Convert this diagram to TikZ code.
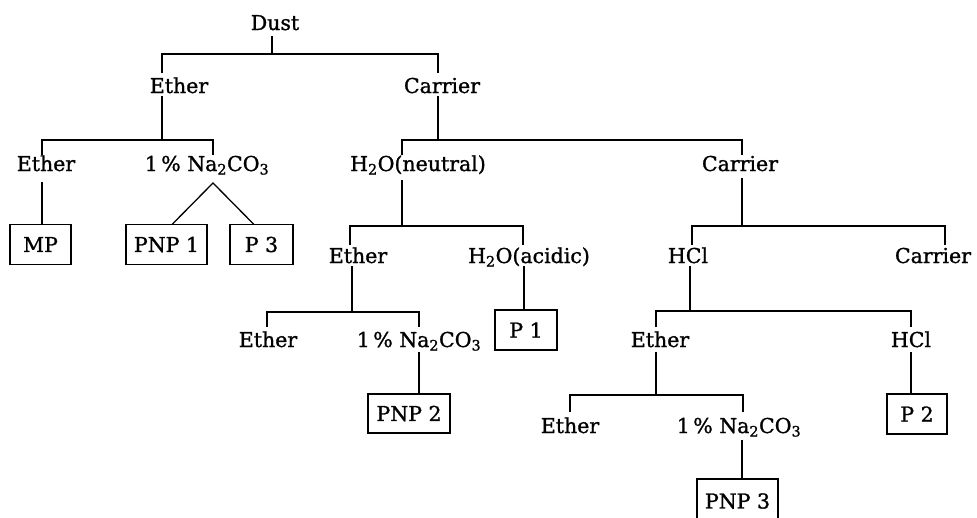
\documentclass[tikz,border=0pt]{standalone}
\usepackage{fontspec}
\setmainfont{DejaVu Serif}[FakeBold=1.2]
\begin{document}
\begin{tikzpicture}[x=1pt,y=-1pt,
  lbl/.style={inner sep=0pt,anchor=base,font=\fontsize{20.5}{24}\selectfont},
  res/.style={draw,line width=1.2pt,inner sep=0pt,minimum height=40pt,font=\fontsize{20.5}{24}\selectfont},
  ln/.style={line width=1.3pt}]
\useasboundingbox (0,0) rectangle (977,517);
% ---- labels
\node[lbl] (dust) at (275,30) {Dust};
\node[lbl] (eth1) at (179,93) {Ether};
\node[lbl] (car1) at (442,93) {Carrier};
\node[lbl] (eth2) at (46,171) {Ether};
\node[lbl] (na1) at (207,171) {1\,\% Na\textsubscript{2}CO\textsubscript{3}};
\node[lbl] (h2on) at (418,171) {H\textsubscript{2}O(neutral)};
\node[lbl] (car2) at (740,171) {Carrier};
\node[lbl] (eth3) at (358,263) {Ether};
\node[lbl] (h2oa) at (529,263) {H\textsubscript{2}O(acidic)};
\node[lbl] (hcl1) at (688,263) {HCl};
\node[lbl] (car3) at (933,263) {Carrier};
\node[lbl] (eth4) at (268,347) {Ether};
\node[lbl] (na2) at (419,347) {1\,\% Na\textsubscript{2}CO\textsubscript{3}};
\node[lbl] (eth5) at (660,347) {Ether};
\node[lbl] (hcl2) at (911,347) {HCl};
\node[lbl] (eth6) at (570,433) {Ether};
\node[lbl] (na3) at (739,433) {1\,\% Na\textsubscript{2}CO\textsubscript{3}};
% ---- result boxes
\node[res,minimum width=61pt] (mp) at (40.5,244.5) {MP};
\node[res,minimum width=81pt] (pnp1) at (166.5,244.5) {PNP 1};
\node[res,minimum width=63pt] (p3) at (261.5,244.5) {P 3};
\node[res,minimum width=62pt] (p1) at (526,330) {P 1};
\node[res,minimum width=82pt,minimum height=39pt] (pnp2) at (409,413.5) {PNP 2};
\node[res,minimum width=60pt] (p2) at (917,414) {P 2};
\node[res,minimum width=81pt,minimum height=44pt] (pnp3) at (737.5,501) {PNP 3};
% ---- junction coordinates
\coordinate (dA) at (272,36);   \coordinate (dB) at (272,54);
\coordinate (k1) at (162,73);   \coordinate (k2) at (438,73);
\coordinate (e1a) at (162,96);  \coordinate (e1b) at (162,140);
\coordinate (k3) at (42,155);   \coordinate (k4) at (213,155);
\coordinate (c1a) at (438,96);  \coordinate (c1b) at (438,140);
\coordinate (k5) at (402,155);  \coordinate (k6) at (742,155);
\coordinate (e2a) at (42,182);
\coordinate (n1a) at (213,183); \coordinate (n1l) at (172,224.5); \coordinate (n1r) at (254,224.5);
\coordinate (h1a) at (402,180); \coordinate (h1b) at (402,226);
\coordinate (k7) at (350,245);  \coordinate (k8) at (523,245);
\coordinate (c2a) at (742,178); \coordinate (c2b) at (742,226);
\coordinate (k9) at (692,245);  \coordinate (k10) at (945,245);
\coordinate (e3a) at (352,266); \coordinate (e3b) at (352,312);
\coordinate (k11) at (267,327); \coordinate (k12) at (419,327);
\coordinate (h2a) at (524,266);
\coordinate (hc1a) at (690,266); \coordinate (hc1b) at (690,311);
\coordinate (k13) at (656,327); \coordinate (k14) at (911,327);
\coordinate (n2a) at (419,352);
\coordinate (e4a) at (656,352); \coordinate (e4b) at (656,395);
\coordinate (k15) at (570,412); \coordinate (k16) at (743,412);
\coordinate (hc2a) at (911,352);
\coordinate (n3a) at (742,440);
% ---- connectors
\draw[ln] (dA) -- (dB);
\draw[ln] (k1) |- (dB) -| (k2);
\draw[ln] (e1a) -- (e1b);
\draw[ln] (k3) |- (e1b) -| (k4);
\draw[ln] (c1a) -- (c1b);
\draw[ln] (k5) |- (c1b) -| (k6);
\draw[ln] (e2a) -- (e2a |- mp.north);
\draw[ln] (n1l) -- (n1a) -- (n1r);
\draw[ln] (h1a) -- (h1b);
\draw[ln] (k7) |- (h1b) -| (k8);
\draw[ln] (c2a) -- (c2b);
\draw[ln] (k9) |- (c2b) -| (k10);
\draw[ln] (e3a) -- (e3b);
\draw[ln] (k11) |- (e3b) -| (k12);
\draw[ln] (h2a) -- (h2a |- p1.north);
\draw[ln] (hc1a) -- (hc1b);
\draw[ln] (k13) |- (hc1b) -| (k14);
\draw[ln] (n2a) -- (n2a |- pnp2.north);
\draw[ln] (e4a) -- (e4b);
\draw[ln] (k15) |- (e4b) -| (k16);
\draw[ln] (hc2a) -- (hc2a |- p2.north);
\draw[ln] (n3a) -- (n3a |- pnp3.north);
\end{tikzpicture}
\end{document}
